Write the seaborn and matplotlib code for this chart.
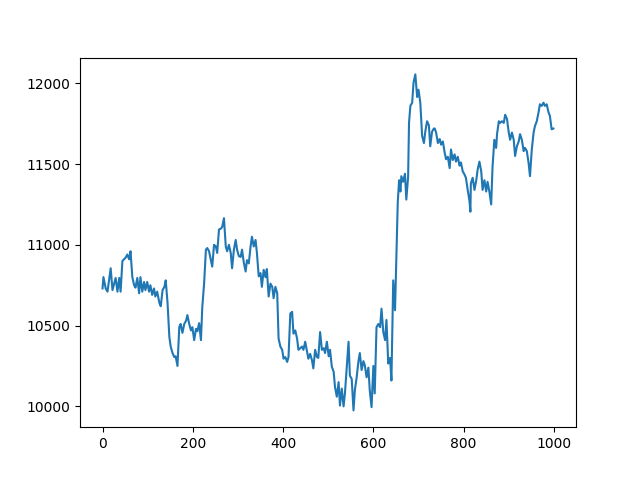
import matplotlib
matplotlib.use("Agg")
import matplotlib.pyplot as plt
import seaborn as sns

# values (step index, level)
steps = [
    0, 2, 7, 11, 18, 22, 29, 33, 37, 40, 44, 51, 55, 59, 62, 66, 70, 73, 77, 81,
    84, 88, 92, 95, 99, 103, 106, 110, 114, 117, 121, 126, 129, 133, 137, 140, 144, 148, 151, 155,
    159, 162, 166, 170, 173, 177, 181, 185, 188, 192, 196, 199, 203, 207, 210, 214, 218, 221, 225, 229,
    232, 236, 240, 243, 247, 251, 254, 258, 262, 265, 269, 273, 276, 280, 284, 287, 291, 295, 298, 302,
    306, 309, 313, 317, 320, 324, 328, 331, 335, 339, 342, 346, 350, 353, 357, 361, 364, 368, 372, 376,
    379, 383, 387, 390, 394, 398, 401, 405, 409, 412, 416, 420, 423, 427, 431, 434, 438, 442, 445, 449,
    453, 456, 460, 464, 467, 471, 475, 478, 482, 486, 490, 493, 497, 501, 504, 508, 512, 515, 519, 523,
    526, 530, 534, 537, 541, 545, 548, 552, 556, 559, 563, 567, 570, 574, 578, 581, 585, 589, 592, 596,
    600, 603, 607, 611, 615, 618, 622, 626, 629, 633, 637, 640, 644, 648, 651, 654, 657, 660, 662, 666,
    670, 673, 677, 679, 682, 686, 689, 693, 697, 700, 704, 708, 712, 715, 719, 723, 726, 730, 734, 736,
    739, 743, 747, 750, 754, 758, 761, 765, 769, 772, 776, 780, 783, 787, 791, 794, 798, 802, 805, 809,
    813, 815, 816, 820, 824, 828, 831, 835, 839, 842, 846, 850, 853, 857, 861, 864, 868, 872, 874, 878,
    881, 885, 889, 892, 896, 900, 903, 907, 911, 914, 918, 922, 925, 929, 933, 936, 940, 944, 947, 951,
    955, 958, 962, 966, 969, 973, 977, 980, 984, 988, 991, 995, 999,
]
levels = [
    10730, 10800, 10730, 10710, 10855, 10720, 10795, 10710, 10795, 10710, 10900, 10920, 10940, 10910, 10960, 10800, 10750, 10735, 10795, 10700,
    10800, 10710, 10770, 10720, 10770, 10710, 10750, 10690, 10730, 10680, 10710, 10640, 10620, 10720, 10740, 10780, 10640, 10430, 10370, 10330,
    10305, 10310, 10250, 10490, 10510, 10455, 10510, 10530, 10565, 10510, 10470, 10490, 10410, 10480, 10465, 10515, 10410, 10615, 10760, 10970,
    10980, 10960, 10905, 10865, 11000, 10990, 10950, 11095, 11100, 11110, 11165, 10990, 10960, 11000, 10950, 10855, 10970, 11030, 10970, 10930,
    10925, 10970, 10890, 10835, 10905, 10885, 10990, 11050, 10990, 11030, 10950, 10805, 10825, 10740, 10845, 10800, 10850, 10680, 10760, 10740,
    10670, 10740, 10700, 10420, 10370, 10350, 10295, 10305, 10275, 10305, 10575, 10585, 10450, 10470, 10420, 10350, 10360, 10370, 10350, 10400,
    10340, 10295, 10325, 10285, 10235, 10350, 10305, 10300, 10460, 10350, 10360, 10330, 10400, 10310, 10350, 10245, 10215, 10120, 10060, 10150,
    10005, 10110, 10000, 10080, 10245, 10400, 10190, 10170, 9975, 10100, 10180, 10280, 10330, 10225, 10280, 10255, 10180, 10240, 10100, 9995,
    10250, 10080, 10490, 10510, 10490, 10605, 10460, 10410, 10535, 10265, 10300, 10160, 10780, 10595, 10925, 11260, 11400, 11330, 11425, 11390,
    11440, 11280, 11420, 11755, 11860, 11880, 12005, 12055, 11915, 11960, 11880, 11675, 11630, 11700, 11765, 11740, 11610, 11700, 11720, 11720,
    11695, 11630, 11655, 11620, 11640, 11570, 11530, 11545, 11475, 11590, 11525, 11560, 11515, 11545, 11490, 11510, 11455, 11435, 11415, 11340,
    11270, 11205, 11380, 11415, 11340, 11400, 11465, 11515, 11455, 11340, 11400, 11330, 11390, 11330, 11250, 11480, 11650, 11600, 11685, 11765,
    11755, 11765, 11755, 11805, 11780, 11695, 11650, 11695, 11650, 11550, 11610, 11640, 11685, 11650, 11580, 11600, 11580, 11505, 11425, 11590,
    11695, 11735, 11765, 11820, 11870, 11860, 11880, 11860, 11870, 11820, 11800, 11715, 11720,
]

fig, ax = plt.subplots(figsize=(6.4, 4.8), dpi=100)
sns.lineplot(x=steps, y=levels, ax=ax, color="#1f77b4", linewidth=1.5)

plt.savefig("out.png")
plt.close()
